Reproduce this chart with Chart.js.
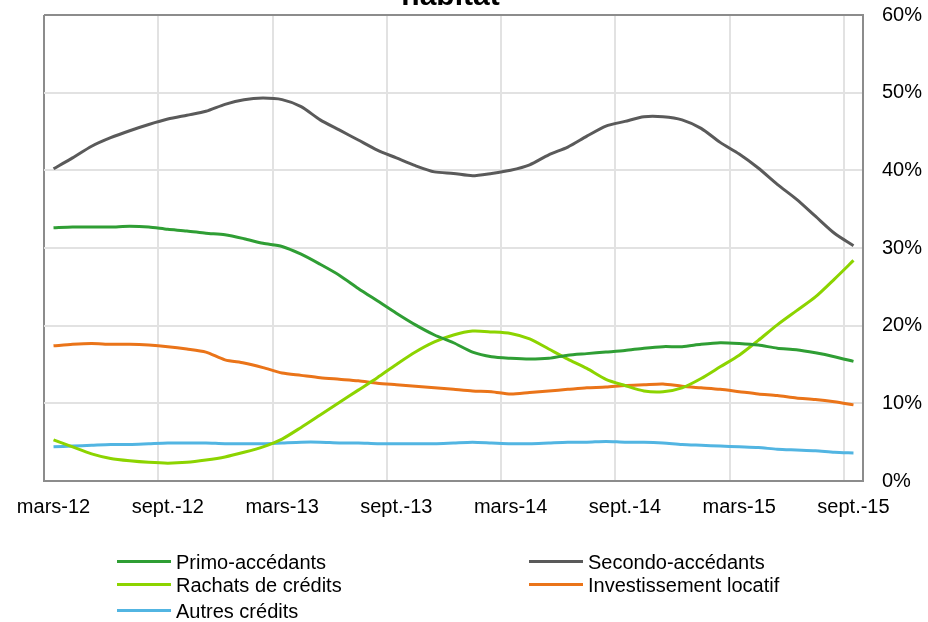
<!DOCTYPE html>
<html>
<head>
<meta charset="utf-8">
<script src="https://cdn.jsdelivr.net/npm/chart.js@4/dist/chart.umd.min.js"></script>
<style>
  html, body { margin: 0; padding: 0; background: #fff; }
  #wrap { position: relative; width: 928px; height: 622px; overflow: hidden; }
  #chart { position: absolute; left: 0; top: 0; }
  .leg { position: absolute; font: 20px "Liberation Sans", Arial, sans-serif; color: #000; line-height: 24px; white-space: nowrap; }
  .leg i { position: absolute; left: -59px; top: 10px; width: 54px; height: 3px; }
</style>
</head>
<body>
<div id="wrap">
  <canvas id="chart" width="928" height="622"></canvas>
</div>
<script>
// mois (mars-12 -> sept.-15)
const labels = [
  'mars-12', 'avr.-12', 'mai-12', 'juin-12', 'juil.-12', 'août-12', 'sept.-12', 'oct.-12', 'nov.-12', 'déc.-12',
  'janv.-13', 'févr.-13', 'mars-13', 'avr.-13', 'mai-13', 'juin-13', 'juil.-13', 'août-13', 'sept.-13', 'oct.-13',
  'nov.-13', 'déc.-13', 'janv.-14', 'févr.-14', 'mars-14', 'avr.-14', 'mai-14', 'juin-14', 'juil.-14', 'août-14',
  'sept.-14', 'oct.-14', 'nov.-14', 'déc.-14', 'janv.-15', 'févr.-15', 'mars-15', 'avr.-15', 'mai-15', 'juin-15',
  'juil.-15', 'août-15', 'sept.-15'
];

// parts en %
const primo = [
  32.6, 32.7, 32.7, 32.7, 32.8, 32.7, 32.4, 32.2, 31.9, 31.7,
  31.2, 30.6, 30.2, 29.2, 27.9, 26.5, 24.8, 23.2, 21.6, 20.1,
  18.8, 17.8, 16.6, 16.0, 15.8, 15.7, 15.8, 16.2, 16.4, 16.6,
  16.8, 17.1, 17.3, 17.3, 17.6, 17.8, 17.7, 17.5, 17.1, 16.9,
  16.5, 16.0, 15.4
];
const secondo = [
  40.2, 41.6, 43.1, 44.2, 45.1, 45.9, 46.6, 47.1, 47.6, 48.5,
  49.1, 49.3, 49.1, 48.2, 46.5, 45.2, 43.9, 42.6, 41.6, 40.6,
  39.8, 39.6, 39.3, 39.6, 40.0, 40.7, 42.0, 43.0, 44.4, 45.7,
  46.3, 46.9, 46.9, 46.5, 45.4, 43.6, 42.1, 40.3, 38.2, 36.3,
  34.1, 31.9, 30.3
];
const rachats = [
  5.3, 4.4, 3.5, 2.9, 2.6, 2.4, 2.3, 2.4, 2.7, 3.1,
  3.7, 4.4, 5.4, 6.9, 8.5, 10.1, 11.7, 13.3, 15.0, 16.6,
  17.9, 18.8, 19.3, 19.2, 19.0, 18.3, 17.0, 15.7, 14.5, 13.1,
  12.3, 11.6, 11.5, 12.0, 13.2, 14.7, 16.2, 18.1, 20.1, 21.9,
  23.7, 26.0, 28.4
];
const investissement = [
  17.4, 17.6, 17.7, 17.6, 17.6, 17.5, 17.3, 17.0, 16.6, 15.6,
  15.2, 14.6, 13.9, 13.6, 13.3, 13.1, 12.9, 12.6, 12.4, 12.2,
  12.0, 11.8, 11.6, 11.5, 11.2, 11.4, 11.6, 11.8, 12.0, 12.1,
  12.3, 12.4, 12.5, 12.2, 12.0, 11.8, 11.5, 11.2, 11.0, 10.7,
  10.5, 10.2, 9.8
];
const autres = [
  4.4, 4.5, 4.6, 4.7, 4.7, 4.8, 4.9, 4.9, 4.9, 4.8,
  4.8, 4.8, 4.9, 5.0, 5.0, 4.9, 4.9, 4.8, 4.8, 4.8,
  4.8, 4.9, 5.0, 4.9, 4.8, 4.8, 4.9, 5.0, 5.0, 5.1,
  5.0, 5.0, 4.9, 4.7, 4.6, 4.5, 4.4, 4.3, 4.1, 4.0,
  3.9, 3.7, 3.6
];

const seriesNames = ['Primo-accédants', 'Secondo-accédants', 'Rachats de crédits', 'Investissement locatif', 'Autres crédits'];
const seriesColors = ['#2f9e34', '#5a5a5a', '#8cd400', '#ea7419', '#52b5e2'];
const seriesData = [primo, secondo, rachats, investissement, autres];

const frameColor = '#8c8c8c';
const gridColor = '#e2e2e2';
const FONT = '"Liberation Sans", Arial, sans-serif';

// titre coupé en haut
const titlePlugin = {
  id: 'cutTitle',
  afterDraw(chart) {
    const c = chart.ctx;
    const a = chart.chartArea;
    c.save();
    c.font = 'bold 30px ' + FONT;
    c.fillStyle = '#000';
    c.textAlign = 'center';
    c.textBaseline = 'alphabetic';
    c.fillText('habitat', (a.left + a.right) / 2 - 3, 5);
    c.restore();
  }
};

const chart = new Chart(document.getElementById('chart'), {
  type: 'line',
  data: {
    labels: labels,
    datasets: seriesData.map((d, i) => ({
      label: seriesNames[i],
      data: d,
      borderColor: seriesColors[i],
      backgroundColor: seriesColors[i],
      borderWidth: 3,
      pointRadius: 0,
      tension: 0.25,
      fill: false
    }))
  },
  options: {
    responsive: false,
    animation: false,
    layout: { padding: { left: 44, top: 0, right: 0, bottom: 0 } },
    plugins: {
      legend: { display: false },
      title: { display: false },
      tooltip: { enabled: false }
    },
    scales: {
      x: {
        type: 'category',
        offset: true,
        afterFit(s) { s.height = 141; },
        grid: {
          offset: true,
          drawTicks: false,
          lineWidth: 2,
          color: (ctx) => ctx.index === 0 ? frameColor : (ctx.index % 6 === 0 ? gridColor : 'rgba(0,0,0,0)')
        },
        border: { display: true, color: frameColor, width: 2 },
        ticks: {
          autoSkip: false,
          maxRotation: 0,
          padding: 14,
          color: '#000',
          font: { family: FONT, size: 20 },
          callback: (v, i) => i % 6 === 0 ? labels[i] : ''
        }
      },
      y: {
        position: 'right',
        min: 0,
        max: 60,
        afterFit(s) { s.width = 65; s.paddingTop = 15; s.paddingBottom = 0; },
        grid: {
          drawTicks: false,
          lineWidth: 2,
          color: (ctx) => ctx.tick && ctx.tick.value === 60 ? frameColor : gridColor
        },
        border: { display: true, color: frameColor, width: 2 },
        ticks: {
          stepSize: 10,
          padding: 19,
          color: '#000',
          font: { family: FONT, size: 20 },
          callback: (v) => v + '%'
        }
      }
    }
  },
  plugins: [titlePlugin]
});

// légende sur deux colonnes
const wrap = document.getElementById('wrap');
const legPos = [[176, 550], [588, 550], [176, 573], [588, 573], [176, 599]];
seriesNames.forEach((name, i) => {
  const el = document.createElement('div');
  el.className = 'leg';
  el.style.left = legPos[i][0] + 'px';
  el.style.top = legPos[i][1] + 'px';
  const sw = document.createElement('i');
  sw.style.background = seriesColors[i];
  el.appendChild(sw);
  el.appendChild(document.createTextNode(name));
  wrap.appendChild(el);
});
</script>
</body>
</html>
